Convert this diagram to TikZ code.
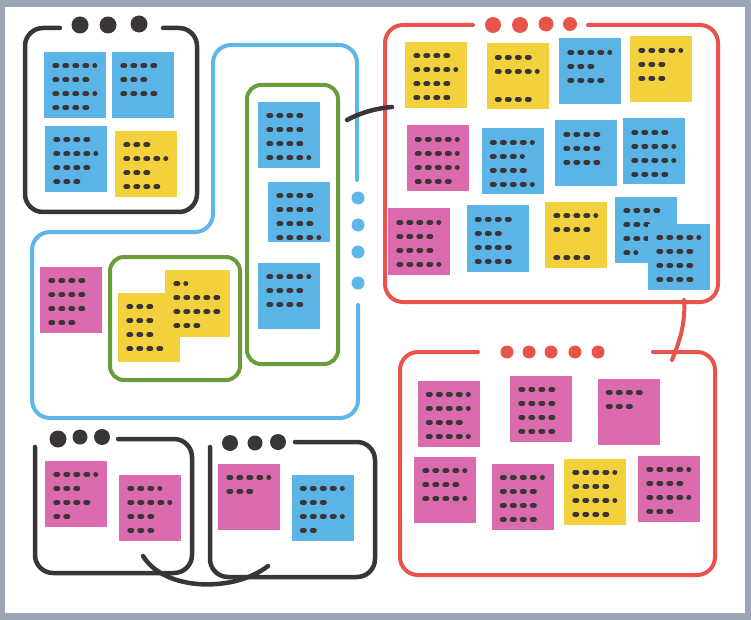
\documentclass[tikz,border=0pt]{standalone}
\usetikzlibrary{calc}
\definecolor{paper}{HTML}{9AA6B3}
\definecolor{ink}{HTML}{3A3536}
\definecolor{skyline}{HTML}{5FB6E8}
\definecolor{noteblue}{HTML}{5AB4E6}
\definecolor{sun}{HTML}{F3D13D}
\definecolor{rose}{HTML}{DC6AAE}
\definecolor{coral}{HTML}{E8534B}
\definecolor{leaf}{HTML}{6A9C3A}

% dotted "handwriting" lines inside a note
\newcommand{\scribble}[2]{%
  \foreach \len [count=\i] in {#2}{%
    \ifnum\len>0
      \draw[scrib] ($(#1.north west)+(11,14*\i)$) -- ++(\len,0);
    \fi
  }%
}

\begin{document}
\begin{tikzpicture}[x=1pt,y=-1pt,
    note/.style={rectangle,minimum width=62pt,minimum height=66pt,inner sep=0pt},
    scrib/.style={draw=ink,line width=5pt,line cap=round,dash pattern=on 2pt off 8pt},
    frame/.style={line width=4.5pt,rounded corners=18pt,line cap=round},
    wire/.style={draw=ink,line width=4.5pt,line cap=round}]
    \useasboundingbox (0,0) rectangle (751,620);
    \fill[paper] (0,0) rectangle (751,620);
    \fill[white] (5,7) rectangle (745,613);

    % blue outline
    \draw[frame,skyline,line width=4pt] (357,180) -- (357,45) -- (213,45) -- (213,232) -- (32,232) -- (32,418) -- (358,418) -- (358,305);
    \foreach \y in {198,225,252,283} \fill[skyline] (358,\y) circle (6.5pt);

    % top left group
    \draw[frame,ink] (60,28) -- (25,28) -- (25,212) -- (197,212) -- (197,28) -- (163,28);
    \fill[ink] (80,25) circle (8.5pt) (108,25) circle (8.5pt) (139,24) circle (8.5pt);
    \node[note,fill=noteblue] (tlA) at (75,85) {};
    \node[note,fill=noteblue] (tlB) at (143,85) {};
    \node[note,fill=noteblue] (tlC) at (76,159) {};
    \node[note,fill=sun] (tlD) at (146,164) {};
    \scribble{tlA}{40,34,40,36}
    \scribble{tlB}{38,28,36}
    \scribble{tlC}{34,40,36,28}
    \scribble{tlD}{26,40,26,38}

    % green groups
    \node[draw=leaf,line width=4pt,rounded corners=14pt,minimum width=91pt,minimum height=279pt] (grpTall) at (292.5,224.5) {};
    \node[draw=leaf,line width=4pt,rounded corners=14pt,minimum width=130pt,minimum height=123pt] (grpPair) at (175,318.5) {};
    \node[note,fill=noteblue] (gA) at (289,135) {};
    \node[note,fill=noteblue,minimum height=60pt] (gB) at (299,212) {};
    \node[note,fill=noteblue] (gC) at (289,296) {};
    \scribble{gA}{36,38,38,40}
    \scribble{gB}{38,34,36,40}
    \scribble{gC}{40,34,36}
    \node[note,fill=sun,minimum height=69pt] (yLow) at (149,327.5) {};
    \node[note,fill=sun,minimum width=65pt,minimum height=67pt] (yHigh) at (197.5,303.5) {};
    \scribble{yLow}{28,22,22,38}
    \scribble{yHigh}{10,42,42,24}
    \node[note,fill=rose] (pkL) at (71,300) {};
    \scribble{pkL}{34,38,38,22}

    % top right group
    \draw[frame,coral,line width=4pt] (473,25) -- (385,25) -- (385,302) -- (718,302) -- (718,25) -- (588,25);
    \fill[coral] (493,25) circle (8pt) (520,25) circle (8pt) (546,24) circle (7.5pt) (570,24) circle (7pt);
    \node[note,fill=sun] (rA) at (436,75) {};
    \node[note,fill=sun] (rB) at (517.5,76.5) {};
    \node[note,fill=noteblue] (rC) at (590,71.5) {};
    \node[note,fill=sun] (rD) at (661,69.5) {};
    \node[note,fill=rose] (rE) at (437.5,158.5) {};
    \node[note,fill=noteblue] (rF) at (512.5,161.5) {};
    \node[note,fill=noteblue] (rG) at (586,153.5) {};
    \node[note,fill=noteblue] (rH) at (654,151.5) {};
    \node[note,fill=rose] (rI) at (419,241.5) {};
    \node[note,fill=noteblue] (rJ) at (497.5,238.5) {};
    \node[note,fill=sun] (rK) at (576,235) {};
    \scribble{rA}{38,40,34,34}
    \scribble{rB}{36,40,0,34}
    \scribble{rC}{40,28,32}
    \scribble{rD}{40,28,28}
    \scribble{rE}{40,40,40,38}
    \scribble{rF}{40,30,34,40}
    \scribble{rG}{32,32,36}
    \scribble{rH}{38,40,40,34}
    \scribble{rI}{40,38,38,40}
    \scribble{rJ}{38,28,38,32}
    \scribble{rK}{40,34,0,38}
    \node[note,fill=noteblue] (rL) at (646,230) {};
    \scribble{rL}{32,28,32,10}
    \node[note,fill=noteblue] (rM) at (679,256.5) {};
    \scribble{rM}{40,38,38,36}

    % bottom right group
    \draw[frame,coral,line width=4pt] (478,352) -- (400,352) -- (400,575) -- (715,575) -- (715,352) -- (653,352);
    \foreach \x in {507,529,551,575,598} \fill[coral] (\x,352) circle (6.5pt);
    \node[note,fill=rose] (bA) at (448.5,413.5) {};
    \node[note,fill=rose] (bB) at (541,408.5) {};
    \node[note,fill=rose] (bC) at (628.5,411.5) {};
    \node[note,fill=rose] (bD) at (445,490) {};
    \node[note,fill=rose] (bE) at (522.5,496.5) {};
    \node[note,fill=sun] (bF) at (595,491.5) {};
    \node[note,fill=rose] (bG) at (669,488.5) {};
    \scribble{bA}{40,40,38,40}
    \scribble{bB}{32,38,38,38}
    \scribble{bC}{38,24}
    \scribble{bD}{40,38,40}
    \scribble{bE}{40,36,32,38}
    \scribble{bF}{40,36,40,38}
    \scribble{bG}{40,38,40,28}

    % bottom left groups
    \draw[frame,ink] (35,447) -- (35,573) -- (192,573) -- (192,439) -- (118,439);
    \fill[ink] (58,439) circle (8.5pt) (80,437) circle (7.5pt) (102,437) circle (8pt);
    \draw[frame,ink] (210,447) -- (210,577) -- (375,577) -- (375,442) -- (295,442);
    \fill[ink] (230,443) circle (8pt) (255,443) circle (7.5pt) (278,442) circle (8pt);
    \node[note,fill=rose] (kA) at (76,493.5) {};
    \node[note,fill=rose] (kB) at (150,507.5) {};
    \node[note,fill=rose] (kC) at (249,496.5) {};
    \node[note,fill=noteblue] (kD) at (322.5,507.5) {};
    \scribble{kA}{40,24,38,16}
    \scribble{kB}{30,40,26,28}
    \scribble{kC}{40,24}
    \scribble{kD}{40,28,40,16}

    % links
    \coordinate (lnkA) at (347,120);
    \coordinate (lnkB) at (392,107);
    \draw[wire] (lnkA) .. controls (362,112) and (378,108) .. (lnkB);
    \coordinate (lnkC) at (684,300);
    \coordinate (lnkD) at (672,360);
    \draw[wire,draw=coral,line width=4pt] (lnkC) .. controls (686,325) and (678,345) .. (lnkD);
    \coordinate (lnkE) at (143,556);
    \coordinate (lnkF) at (268,566);
    \draw[wire] (lnkE) .. controls (165,592) and (235,592) .. (lnkF);
\end{tikzpicture}
\end{document}
